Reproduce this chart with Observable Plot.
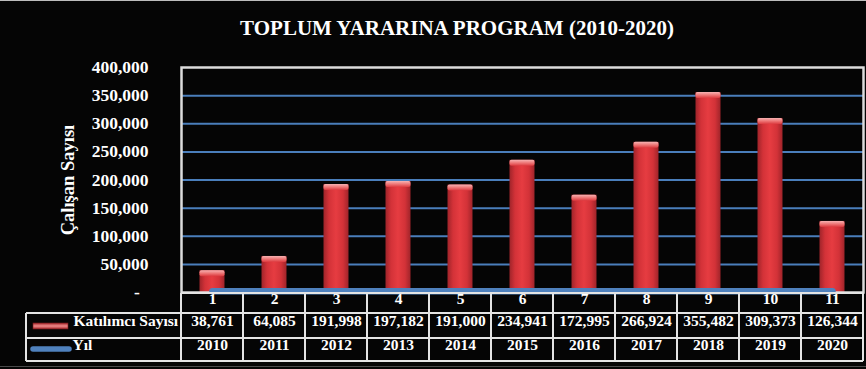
<!DOCTYPE html>
<html>
<head>
<meta charset="utf-8">
<script src="https://cdn.jsdelivr.net/npm/d3@7"></script>
<script src="https://cdn.jsdelivr.net/npm/@observablehq/plot@0.6"></script>
<style>
  html, body { margin: 0; padding: 0; background: #050505; }
  #chart { position: relative; width: 866px; height: 369px; overflow: hidden; background: #050505; }
  #title {
    height: 50px; box-sizing: border-box; padding-top: 18px; padding-left: 48px;
    text-align: center; color: #fff;
    font: bold 21px/21px "Liberation Serif", "Times New Roman", serif;
  }
  #chart svg { display: block; }
  .edge-top { position: absolute; left: 0; top: 0; width: 866px; height: 1px; background: #bdbdbd; }
  .edge-bottom { position: absolute; left: 0; top: 366px; width: 866px; height: 1px; background: #4a4a4a; }
</style>
</head>
<body>
<div id="chart">
  <div class="edge-top"></div>
  <div id="title"></div>
</div>
<script>
// Program data, 2010–2020
const chartTitle = "TOPLUM YARARINA PROGRAM (2010-2020)";
const axisTitle = "Çalışan Sayısı";
const categories = ["1", "2", "3", "4", "5", "6", "7", "8", "9", "10", "11"];
const participants = [38761, 64085, 191998, 197182, 191000, 234941, 172995, 266924, 355482, 309373, 126344];
const years = [2010, 2011, 2012, 2013, 2014, 2015, 2016, 2017, 2018, 2019, 2020];
const yTicks = [0, 50000, 100000, 150000, 200000, 250000, 300000, 350000, 400000];
const seriesNames = ["Katılımcı Sayısı", "Yıl"];

const rows = categories.map((c, i) => ({cat: c, value: participants[i], year: years[i]}));
const fmt = d3.format(",");
const serif = '"Liberation Serif", "Times New Roman", serif';

document.getElementById("title").textContent = chartTitle;

// gradients for the cylinder-like bars
function gradients() {
  const g = d3.create("svg:g");
  const defs = g.append("defs");
  const body = defs.append("linearGradient").attr("id", "barBody")
    .attr("x1", 0).attr("x2", 1).attr("y1", 0).attr("y2", 0);
  [[0, "#a0242a"], [0.22, "#d33238"], [0.5, "#e63c41"], [0.78, "#d33238"], [1, "#a0242a"]]
    .forEach(([o, c]) => body.append("stop").attr("offset", o).attr("stop-color", c));
  const cap = defs.append("linearGradient").attr("id", "barCap")
    .attr("x1", 0).attr("x2", 0).attr("y1", 0).attr("y2", 1);
  [[0, "#f6b3b3"], [0.5, "#ee7777"], [1, "#dc3a3f"]]
    .forEach(([o, c]) => cap.append("stop").attr("offset", o).attr("stop-color", c));
  const key = defs.append("linearGradient").attr("id", "keyRed")
    .attr("x1", 0).attr("x2", 0).attr("y1", 0).attr("y2", 1);
  [[0, "#a3282c"], [0.5, "#ef8a8a"], [1, "#a3282c"]]
    .forEach(([o, c]) => key.append("stop").attr("offset", o).attr("stop-color", c));
  return g.node();
}

// data table grid under the plot, with the series keys
function dataTable(index, scales, values, dims) {
  const {width, height, marginLeft, marginRight, marginBottom} = dims;
  const x = scales.x;
  const bw = x(categories[1]) - x(categories[0]);
  const left = marginLeft, right = x(categories[categories.length - 1]) + bw;
  const y0 = height - marginBottom;
  const lines = [y0 + 1, y0 + 21, y0 + 46, y0 + 69];
  const outer = 26;
  const g = d3.create("svg:g");
  const grid = g.append("g").attr("stroke", "#e4e4e4").attr("stroke-width", 2).attr("fill", "none");
  grid.append("line").attr("x1", left).attr("x2", right).attr("y1", lines[0]).attr("y2", lines[0]);
  lines.slice(1).forEach(y => grid.append("line").attr("x1", outer).attr("x2", right).attr("y1", y).attr("y2", y));
  categories.map(c => x(c)).concat([right]).forEach(xx =>
    grid.append("line").attr("x1", xx).attr("x2", xx).attr("y1", lines[0]).attr("y2", lines[3]));
  grid.append("line").attr("x1", outer).attr("x2", outer).attr("y1", lines[1]).attr("y2", lines[3]);
  // keys
  g.append("rect").attr("x", 33).attr("y", y0 + 31).attr("width", 35).attr("height", 6)
    .attr("fill", "url(#keyRed)").attr("stroke", "#7a1a1d").attr("stroke-width", 0.6);
  g.append("line").attr("x1", 33).attr("x2", 69).attr("y1", y0 + 57).attr("y2", y0 + 57)
    .attr("stroke", "#4f81bd").attr("stroke-width", 5.5).attr("stroke-linecap", "round");
  return g.node();
}

const textStyle = {fill: "#fff", fontWeight: "bold", fontFamily: serif, fontSize: 15.5};

const plot = Plot.plot({
  width: 866,
  height: 319,
  marginLeft: 181,
  marginRight: 3,
  marginTop: 17,
  marginBottom: 77,
  style: {background: "transparent", color: "#fff", fontFamily: serif, fontWeight: "bold", fontSize: "17px"},
  x: {domain: categories, padding: 0, axis: null},
  y: {domain: [0, 400000], axis: null},
  marks: [
    gradients,
    Plot.ruleY(yTicks.filter(t => t > 0 && t < 400000), {stroke: "#4a7ebb", strokeWidth: 2}),
    Plot.barY(rows, {x: "cat", y: "value", fill: "url(#barBody)", insetLeft: 18.5, insetRight: 18.5}),
    Plot.barY(rows, {x: "cat", y1: "value", y2: "value", insetBottom: -6, fill: "url(#barCap)",
      insetLeft: 18.5, insetRight: 18.5, rx: 2}),
    Plot.frame({stroke: "#dcdcdc", strokeWidth: 2.5}),
    Plot.lineY(rows, {x: "cat", y: "year", stroke: "#4f81bd", strokeWidth: 6.5, strokeLinecap: "round"}),
    Plot.axisY({ticks: yTicks, tickSize: 0, tickPadding: 33, fontSize: 17.5, fill: "#fff",
      tickFormat: d => d === 0 ? "-\u2007" : fmt(d), label: null}),
    Plot.text([axisTitle], {frameAnchor: "left", textAnchor: "middle", dx: -113, rotate: -90, ...textStyle, fontSize: 18.5}),
    dataTable,
    Plot.text(rows, {x: "cat", text: "cat", frameAnchor: "bottom", dy: 11, ...textStyle}),
    Plot.text(rows, {x: "cat", text: d => fmt(d.value), frameAnchor: "bottom", dy: 33.5, ...textStyle}),
    Plot.text(rows, {x: "cat", text: d => String(d.year), frameAnchor: "bottom", dy: 57, ...textStyle}),
    Plot.text([seriesNames[0]], {frameAnchor: "bottom-left", dx: -108, dy: 33.5, textAnchor: "start", ...textStyle}),
    Plot.text([seriesNames[1]], {frameAnchor: "bottom-left", dx: -109, dy: 57, textAnchor: "start", ...textStyle})
  ]
});

const chart = document.getElementById("chart");
chart.appendChild(plot);
const edge = document.createElement("div");
edge.className = "edge-bottom";
chart.appendChild(edge);
</script>
</body>
</html>
